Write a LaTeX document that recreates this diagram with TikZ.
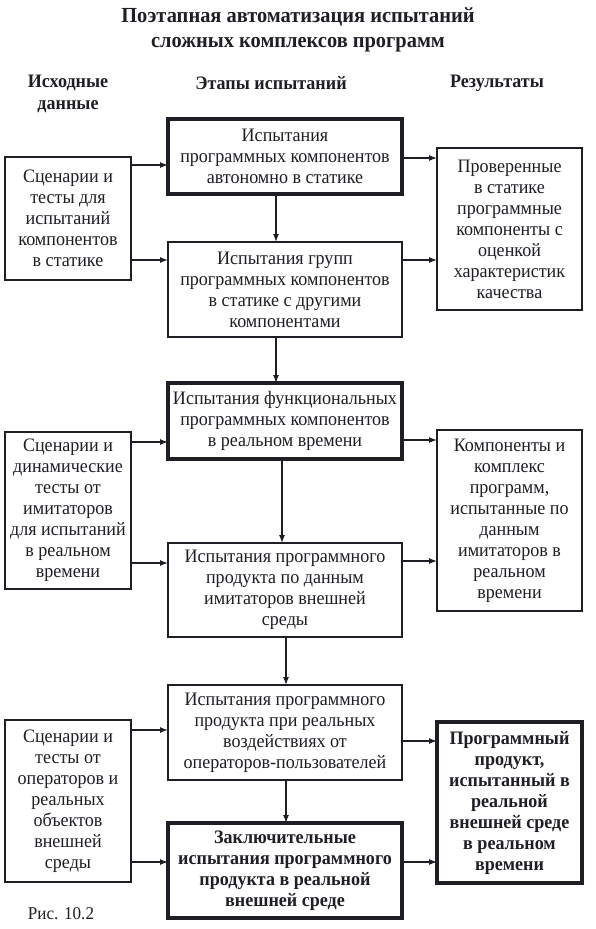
\documentclass[tikz,border=0pt]{standalone}
\usepackage{fontspec}
\setmainfont{Liberation Serif}[FakeStretch=0.95]
\usetikzlibrary{arrows.meta}
\definecolor{ink}{HTML}{1E1E24}
\begin{document}
\begin{tikzpicture}[x=1bp,y=-1bp,
  every node/.style={inner sep=0pt, outer sep=0pt, text=ink},
  txt/.style={font=\fontsize{19bp}{21bp}\selectfont, align=center},
  boldtxt/.style={font=\bfseries\fontsize{19bp}{21bp}\selectfont},
  boxthin/.style={txt, draw=ink, line width=1.5bp, rectangle},
  boxthick/.style={txt, draw=ink, line width=3.6bp, rectangle},
  cbox/.style={minimum width=234bp},
  lbox/.style={minimum width=126bp},
  rbox/.style={minimum width=145bp},
  hdr/.style={font=\bfseries\fontsize{19bp}{22bp}\selectfont, align=center},
  arr/.style={draw=ink, line width=1.3bp, -{Latex[length=8bp,width=6bp]}}
]
\useasboundingbox (0,0) rectangle (596,929);
\fill[white] (0,0) rectangle (596,929);

\node[font=\bfseries\fontsize{21.5bp}{25.5bp}\selectfont, align=center] (title) at (298,30)
  {Поэтапная автоматизация испытаний\\сложных комплексов программ};
\node[hdr] (h1) at (68,94) {Исходные\\данные};
\node[hdr] (h2) at (271,83) {Этапы испытаний};
\node[hdr] (h3) at (497,83) {Результаты};

% centre column
\node[boxthick, cbox, minimum height=75bp] (B1) at (285,156.5)
  {Испытания\\программных компонентов\\автономно в статике};
\node[boxthin, cbox, minimum height=95bp] (B2) at (285,289.5)
  {Испытания групп\\программных компонентов\\в статике с другими\\компонентами};
\node[boxthick, cbox, minimum height=76bp] (B3) at (285,421)
  {Испытания функциональных\\программных компонентов\\в реальном времени};
\node[boxthin, cbox, minimum height=94bp] (B4) at (285,590)
  {Испытания программного\\продукта по данным\\имитаторов внешней\\среды};
\node[boxthin, cbox, minimum height=95bp] (B5) at (285,732.5)
  {Испытания программного\\продукта при реальных\\воздействиях от\\операторов-пользователей};
\node[boxthick, cbox, minimum height=95bp, boldtxt] (B6) at (285,870.5)
  {Заключительные\\испытания программного\\продукта в реальной\\внешней среде};

% left column
\node[boxthin, lbox, minimum height=123bp] (L1) at (68,218.5)
  {Сценарии и\\тесты для\\испытаний\\компонентов\\в статике};
\node[boxthin, lbox, minimum height=157bp] (L2) at (68,510.5)
  {Сценарии и\\динамические\\тесты от\\имитаторов\\для испытаний\\в реальном\\времени};
\node[boxthin, lbox, minimum height=162bp] (L3) at (68,801)
  {Сценарии и\\тесты от\\операторов и\\реальных\\объектов\\внешней\\среды};

% right column
\node[boxthin, rbox, minimum height=162bp] (R1) at (509.5,229)
  {Проверенные\\в статике\\программные\\компоненты с\\оценкой\\характеристик\\качества};
\node[boxthin, rbox, minimum height=181bp] (R2) at (509.5,520.5)
  {Компоненты и\\комплекс\\программ,\\испытанные по\\данным\\имитаторов в\\реальном\\времени};
\node[boxthick, rbox, minimum height=161bp, boldtxt] (R3) at (509.5,802.5)
  {Программный\\продукт,\\испытанный в\\реальной\\внешней среде\\в реальном\\времени};

\node[font=\fontsize{18bp}{20bp}\selectfont] (cap) at (61,914) {Рис. 10.2};

% horizontal arrow levels
\coordinate (y1) at (0,165);
\coordinate (y2) at (0,260);
\coordinate (y3) at (0,442);
\coordinate (y4) at (0,563);
\coordinate (y5) at (0,730);
\coordinate (y6) at (0,862);
\coordinate (z1) at (0,158);
\coordinate (z2) at (0,260);
\coordinate (z3) at (0,440);
\coordinate (z4) at (0,561);
\coordinate (z5) at (0,741);
\coordinate (z6) at (0,862);

\draw[arr] (y1 -| L1.east) -- (y1 -| B1.west);
\draw[arr] (y2 -| L1.east) -- (y2 -| B2.west);
\draw[arr] (y3 -| L2.east) -- (y3 -| B3.west);
\draw[arr] (y4 -| L2.east) -- (y4 -| B4.west);
\draw[arr] (y5 -| L3.east) -- (y5 -| B5.west);
\draw[arr] (y6 -| L3.east) -- (y6 -| B6.west);

\draw[arr] (z1 -| B1.east) -- (z1 -| R1.west);
\draw[arr] (z2 -| B2.east) -- (z2 -| R1.west);
\draw[arr] (z3 -| B3.east) -- (z3 -| R2.west);
\draw[arr] (z4 -| B4.east) -- (z4 -| R2.west);
\draw[arr] (z5 -| B5.east) -- (z5 -| R3.west);
\draw[arr] (z6 -| B6.east) -- (z6 -| R3.west);

% vertical arrows
\coordinate (x1) at (276,0);
\coordinate (x2) at (276,0);
\coordinate (x3) at (282,0);
\coordinate (x4) at (286,0);
\coordinate (x5) at (286,0);
\draw[arr] (x1 |- B1.south) -- (x1 |- B2.north);
\draw[arr] (x2 |- B2.south) -- (x2 |- B3.north);
\draw[arr] (x3 |- B3.south) -- (x3 |- B4.north);
\draw[arr] (x4 |- B4.south) -- (x4 |- B5.north);
\draw[arr] (x5 |- B5.south) -- (x5 |- B6.north);
\end{tikzpicture}
\end{document}
